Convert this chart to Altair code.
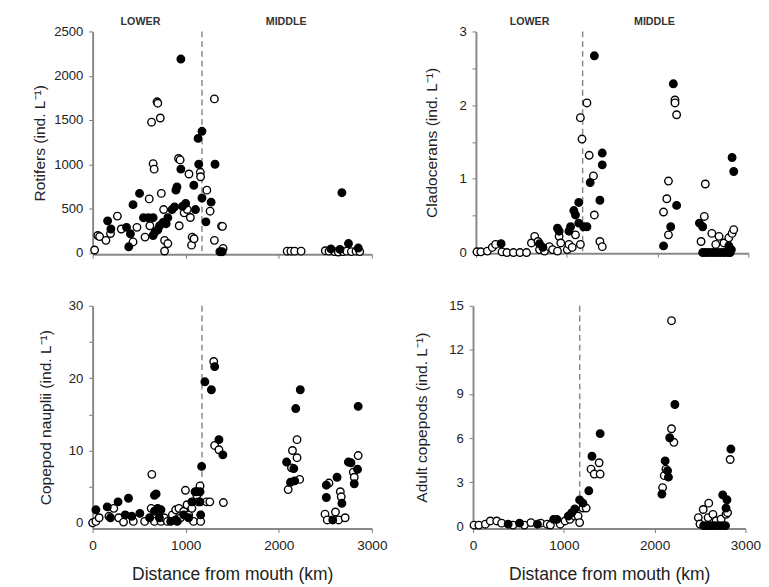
import altair as alt
import pandas as pd

# ---------------- data (km from mouth, ind. L-1) ----------------
rot_filled_km = [161, 196, 364, 388, 406, 434, 504, 546, 598, 650, 650, 668, 700, 720, 755, 790, 808, 853, 880, 895, 906, 948, 948, 965, 1000, 1087, 1105, 1133, 1140, 1175, 1175, 1217, 1273, 1315, 1367, 1392, 2678, 2749, 2854, 2657, 2560]
rot_filled_val = [362, 270, 289, 69, 216, 545, 672, 398, 398, 398, 197, 233, 260, 307, 343, 330, 398, 490, 520, 709, 745, 2189, 946, 526, 560, 764, 490, 1293, 1001, 1373, 620, 351, 573, 1001, 14, 14, 680, 106, 55, 40, 45]
rot_open_km = [21, 56, 75, 143, 192, 266, 308, 434, 476, 563, 608, 615, 633, 650, 661, 692, 700, 727, 738, 763, 773, 773, 808, 923, 930, 940, 983, 1017, 1035, 1050, 1063, 1070, 1090, 1157, 1160, 1227, 1262, 1308, 1308, 1385, 1395, 1402, 2090, 2130, 2170, 2240, 2500, 2540, 2600, 2640, 2690, 2730, 2780, 2830, 2870]
rot_open_val = [33, 197, 185, 142, 219, 416, 270, 124, 289, 179, 610, 307, 1476, 1008, 946, 1706, 1690, 1523, 672, 490, 142, 22, 106, 1066, 307, 1050, 453, 490, 891, 400, 88, 179, 160, 910, 860, 709, 471, 1739, 142, 303, 300, 51, 20, 20, 20, 20, 25, 20, 15, 10, 15, 20, 15, 20, 15]

cla_filled_km = [277, 700, 737, 898, 916, 1024, 1042, 1078, 1096, 1132, 1132, 1186, 1222, 1258, 1304, 1365, 1391, 1391, 2066, 2145, 2174, 2210, 2461, 2497, 2497, 2530, 2570, 2610, 2650, 2690, 2730, 2770, 2800, 2785, 2813, 2821, 2839]
cla_filled_val = [0.12, 0.12, 0.07, 0.33, 0.29, 0.29, 0.35, 0.57, 0.51, 0.68, 0.40, 0.35, 0.35, 0.95, 2.67, 0.71, 1.35, 1.19, 0.09, 0.35, 2.29, 0.64, 0.40, 0.35, 0.0, 0.0, 0.0, 0.0, 0.0, 0.0, 0.0, 0.0, 0.0, 0.09, 0.04, 1.29, 1.10]
cla_open_km = [11, 54, 126, 180, 216, 287, 341, 413, 485, 557, 611, 647, 683, 700, 755, 808, 844, 898, 916, 934, 1006, 1024, 1060, 1096, 1150, 1168, 1150, 1222, 1247, 1294, 1304, 1365, 1391, 2066, 2102, 2120, 2120, 2192, 2192, 2210, 2479, 2515, 2526, 2598, 2641, 2677, 2731, 2785, 2821, 2839]
cla_open_val = [0.01, 0.01, 0.02, 0.07, 0.11, 0.01, 0.0, 0.0, 0.0, 0.0, 0.13, 0.22, 0.15, 0.04, 0.02, 0.08, 0.04, 0.02, 0.22, 0.13, 0.04, 0.11, 0.07, 0.24, 0.11, 1.54, 1.83, 2.03, 1.32, 1.04, 0.51, 0.15, 0.08, 0.55, 0.73, 0.97, 0.24, 2.07, 2.03, 1.87, 0.15, 0.49, 0.93, 0.26, 0.11, 0.22, 0.13, 0.20, 0.26, 0.31]

nau_filled_km = [35, 157, 192, 273, 350, 385, 420, 507, 612, 664, 682, 664, 699, 734, 717, 839, 892, 909, 979, 1031, 1066, 1101, 1119, 1154, 1154, 1161, 1171, 1206, 1276, 1311, 1357, 1399, 2084, 2126, 2161, 2171, 2182, 2231, 2511, 2511, 2580, 2626, 2678, 2748, 2776, 2811, 2846, 2853]
nau_filled_val = [1.8, 2.2, 0.7, 2.9, 1.1, 3.4, 0.9, 1.3, 0.7, 3.8, 4.0, 1.6, 2.0, 1.8, 0.7, 0.2, 0.4, 0.2, 1.1, 0.7, 2.9, 4.3, 4.3, 4.3, 2.9, 1.1, 7.8, 19.5, 18.4, 21.6, 11.5, 9.4, 8.4, 5.6, 7.5, 5.8, 15.8, 18.4, 5.2, 3.5, 0.4, 6.3, 2.7, 8.4, 8.3, 5.4, 7.4, 16.1]
nau_open_km = [0, 35, 70, 175, 227, 280, 332, 437, 559, 629, 636, 664, 734, 769, 804, 857, 892, 927, 944, 979, 997, 1014, 1031, 1066, 1084, 1119, 1136, 1154, 1161, 1224, 1259, 1301, 1311, 1357, 1405, 2101, 2136, 2147, 2196, 2196, 2224, 2497, 2521, 2539, 2609, 2643, 2661, 2671, 2713, 2801, 2811, 2853]
nau_open_val = [0.0, 0.2, 0.7, 0.9, 2.0, 0.7, 0.1, 0.2, 0.2, 2.0, 6.7, 0.2, 0.2, 0.7, 0.2, 1.1, 1.8, 2.0, 0.7, 1.6, 4.5, 2.5, 1.1, 2.0, 0.2, 3.8, 2.9, 5.1, 0.2, 2.9, 2.9, 22.3, 10.7, 10.1, 2.8, 4.6, 7.6, 10.0, 11.5, 9.0, 6.0, 1.2, 0.4, 5.5, 1.5, 0.4, 4.3, 3.6, 0.7, 7.0, 6.3, 9.3]

adu_filled_km = [387, 512, 709, 888, 924, 1049, 1085, 1121, 1174, 1210, 1275, 1310, 1400, 2080, 2116, 2142, 2152, 2166, 2223, 2540, 2580, 2620, 2660, 2700, 2740, 2780, 2750, 2786, 2797, 2840]
adu_filled_val = [0.15, 0.22, 0.15, 0.48, 0.48, 0.70, 0.92, 1.19, 1.80, 1.58, 2.42, 4.77, 6.31, 2.20, 4.45, 3.79, 3.35, 6.03, 8.29, 0.05, 0.05, 0.05, 0.05, 0.05, 0.05, 0.05, 2.14, 1.25, 1.81, 5.26]
adu_open_km = [11, 64, 136, 190, 261, 315, 440, 566, 637, 745, 816, 852, 960, 1013, 1067, 1121, 1157, 1174, 1210, 1246, 1300, 1335, 1389, 1400, 2088, 2106, 2124, 2186, 2186, 2212, 2481, 2499, 2535, 2589, 2596, 2642, 2678, 2732, 2786, 2803, 2832]
adu_open_val = [0.09, 0.09, 0.15, 0.37, 0.37, 0.22, 0.09, 0.09, 0.26, 0.22, 0.15, 0.09, 0.15, 0.37, 0.48, 0.70, 0.70, 0.26, 1.25, 1.25, 3.89, 3.56, 4.33, 3.56, 2.64, 3.45, 3.89, 13.99, 6.64, 5.72, 0.60, 0.16, 1.15, 0.60, 1.58, 0.82, 0.38, 0.49, 0.82, 0.93, 4.55]

x_ticks = [0, 1000, 2000, 3000]
boundary_km = [1175]
zone_labels = ["LOWER", "MIDDLE"]
FONT = "Liberation Sans"


def make_df(fk, fv, ok, ov):
    return pd.DataFrame({
        "km": list(ok) + list(fk),
        "val": list(ov) + list(fv),
        "kind": ["open"] * len(ok) + ["filled"] * len(fk),
    })


def panel(df, ytitle, ydomain, yvalues, ylabel_step, width, height, bottom, zone_pos, tpad):
    xaxis = alt.Axis(values=x_ticks, format="d", grid=False,
                     labels=bottom, title="Distance from mouth (km)" if bottom else None,
                     titleFontSize=18, titleFont=FONT, titleFontWeight="normal",
                     titleColor="#222", titlePadding=14,
                     labelFontSize=14, labelFont=FONT, labelColor="#222",
                     labelPadding=6, tickSize=4, tickColor="#777",
                     domainColor="#888", domainWidth=2, labelFlush=False)
    yaxis = alt.Axis(values=yvalues, grid=False, title=ytitle, format="~r",
                     labelExpr=f"abs(datum.value % {ylabel_step}) < 1e-9 ? datum.label : ''",
                     titleFontSize=16, titleFont=FONT, titleFontWeight="normal",
                     titleColor="#222", titlePadding=tpad,
                     labelFontSize=13.5, labelFont=FONT, labelColor="#222",
                     labelPadding=6, tickSize=4, tickColor="#777",
                     domainColor="#888", domainWidth=2)
    pts = alt.Chart(df).mark_point(shape="circle", filled=True, stroke="black",
                                   strokeWidth=1.4, size=60, opacity=1).encode(
        x=alt.X("km:Q", scale=alt.Scale(domain=[0, 3000], nice=False), axis=xaxis),
        y=alt.Y("val:Q", scale=alt.Scale(domain=ydomain, nice=False, zero=False), axis=yaxis),
        fill=alt.Fill("kind:N", scale=alt.Scale(domain=["open", "filled"], range=["white", "black"]), legend=None),
        order=alt.Order("kind:N", sort="descending"),
    )
    rule = alt.Chart(pd.DataFrame({"km": boundary_km})).mark_rule(
        strokeDash=[6, 4], color="#888", strokeWidth=1.5).encode(x="km:Q")
    layers = [rule, pts]
    if zone_pos is not None:
        tdf = pd.DataFrame({"km": zone_pos, "t": zone_labels})
        txt = alt.Chart(tdf).mark_text(font=FONT, fontSize=11, fontWeight="bold",
                                       color="#333", baseline="middle").encode(
            x="km:Q", y=alt.value(-10), text="t:N")
        layers.append(txt)
    return alt.layer(*layers).properties(width=width, height=height)


p1 = panel(make_df(rot_filled_km, rot_filled_val, rot_open_km, rot_open_val),
           "Rotifers (ind. L⁻¹)", [-15, 2500], [0, 500, 1000, 1500, 2000, 2500], 500,
           287, 229, False, [514, 2080], 6)
p2 = panel(make_df(cla_filled_km, cla_filled_val, cla_open_km, cla_open_val),
           "Cladocerans (ind. L⁻¹)", [-0.01, 3], [0, 0.5, 1, 1.5, 2, 2.5, 3], 1,
           280, 228, False, [590, 1966], 20)
p3 = panel(make_df(nau_filled_km, nau_filled_val, nau_open_km, nau_open_val),
           "Copepod nauplii (ind. L⁻¹)", [-0.8, 30], [0, 5, 10, 15, 20, 25, 30], 10,
           287, 229, True, None, 15)
p4 = panel(make_df(adu_filled_km, adu_filled_val, adu_open_km, adu_open_val),
           "Adult copepods (ind. L⁻¹)", [-0.15, 15], [0, 3, 6, 9, 12, 15], 3,
           280, 229, True, None, 20)

top = alt.hconcat(p1, p2, spacing=52)
bot = alt.hconcat(p3, p4, spacing=26)
chart = alt.vconcat(top, bot, spacing=40).configure_view(
    strokeWidth=0).properties(background="white",
                              padding={"left": 24, "top": 0, "right": 0, "bottom": 0})

chart.save("out.html", embed_options={"renderer": "svg", "actions": False})
